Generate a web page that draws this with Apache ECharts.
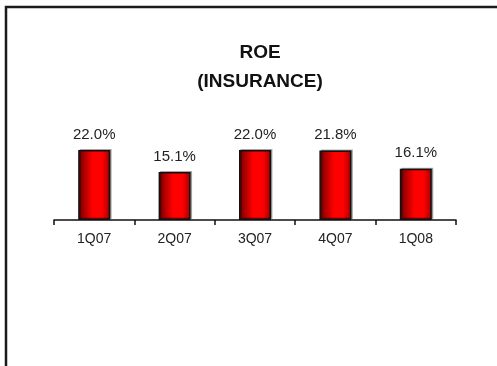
<!DOCTYPE html>
<html>
<head>
<meta charset="utf-8">
<script src="https://cdn.jsdelivr.net/npm/echarts@6/dist/echarts.min.js"></script>
<style>
html,body{margin:0;padding:0;background:#fff;}
#c{width:497px;height:366px;}
</style>
</head>
<body>
<div id="c"></div>
<script>
const categories = ['1Q07', '2Q07', '3Q07', '4Q07', '1Q08'];
const roeValues = [22.0, 15.1, 22.0, 21.8, 16.1];
const titleLines = ['ROE', '(INSURANCE)'];

const chart = echarts.init(document.getElementById('c'), null, {renderer: 'canvas'});
chart.setOption({
  animation: false,
  backgroundColor: '#fff',
  title: {
    text: titleLines.join('\n'),
    left: 255,
    textAlign: 'center',
    top: 33,
    textStyle: {
      fontFamily: 'Liberation Sans, Arial, sans-serif',
      fontWeight: 'bold',
      fontSize: 19,
      lineHeight: 29,
      color: '#111'
    }
  },
  graphic: [{
    type: 'polyline',
    shape: {points: [[6, 366], [6, 7], [497, 7]]},
    style: {stroke: '#1a1a1a', lineWidth: 2.5, fill: null},
    silent: true
  }],
  grid: {left: 54, right: 41, top: 124.5, bottom: 146},
  xAxis: {
    type: 'category',
    data: categories,
    axisLine: {lineStyle: {color: '#111', width: 1.5}},
    axisTick: {show: true, length: 5, lineStyle: {color: '#111', width: 1.5}},
    axisLabel: {
      margin: 12,
      fontFamily: 'Liberation Sans, Arial, sans-serif',
      fontSize: 14,
      color: '#222'
    }
  },
  yAxis: {
    type: 'value',
    min: 0,
    max: 30,
    show: false,
    splitLine: {show: false}
  },
  series: [{
    type: 'bar',
    data: roeValues,
    barWidth: 32,
    itemStyle: {
      color: new echarts.graphic.LinearGradient(0, 0, 1, 0, [
        {offset: 0, color: '#700000'},
        {offset: 0.45, color: '#ff0000'},
        {offset: 0.75, color: '#ff0000'},
        {offset: 1, color: '#a00000'}
      ]),
      borderColor: '#111',
      borderWidth: 1.5,
      shadowColor: 'rgba(0,0,0,0.3)',
      shadowOffsetX: 1.5,
      shadowOffsetY: -1
    },
    label: {
      show: true,
      position: 'top',
      distance: 8,
      formatter: p => p.value.toFixed(1) + '%',
      fontFamily: 'Liberation Sans, Arial, sans-serif',
      fontSize: 15,
      color: '#222'
    }
  }]
});
</script>
</body>
</html>
